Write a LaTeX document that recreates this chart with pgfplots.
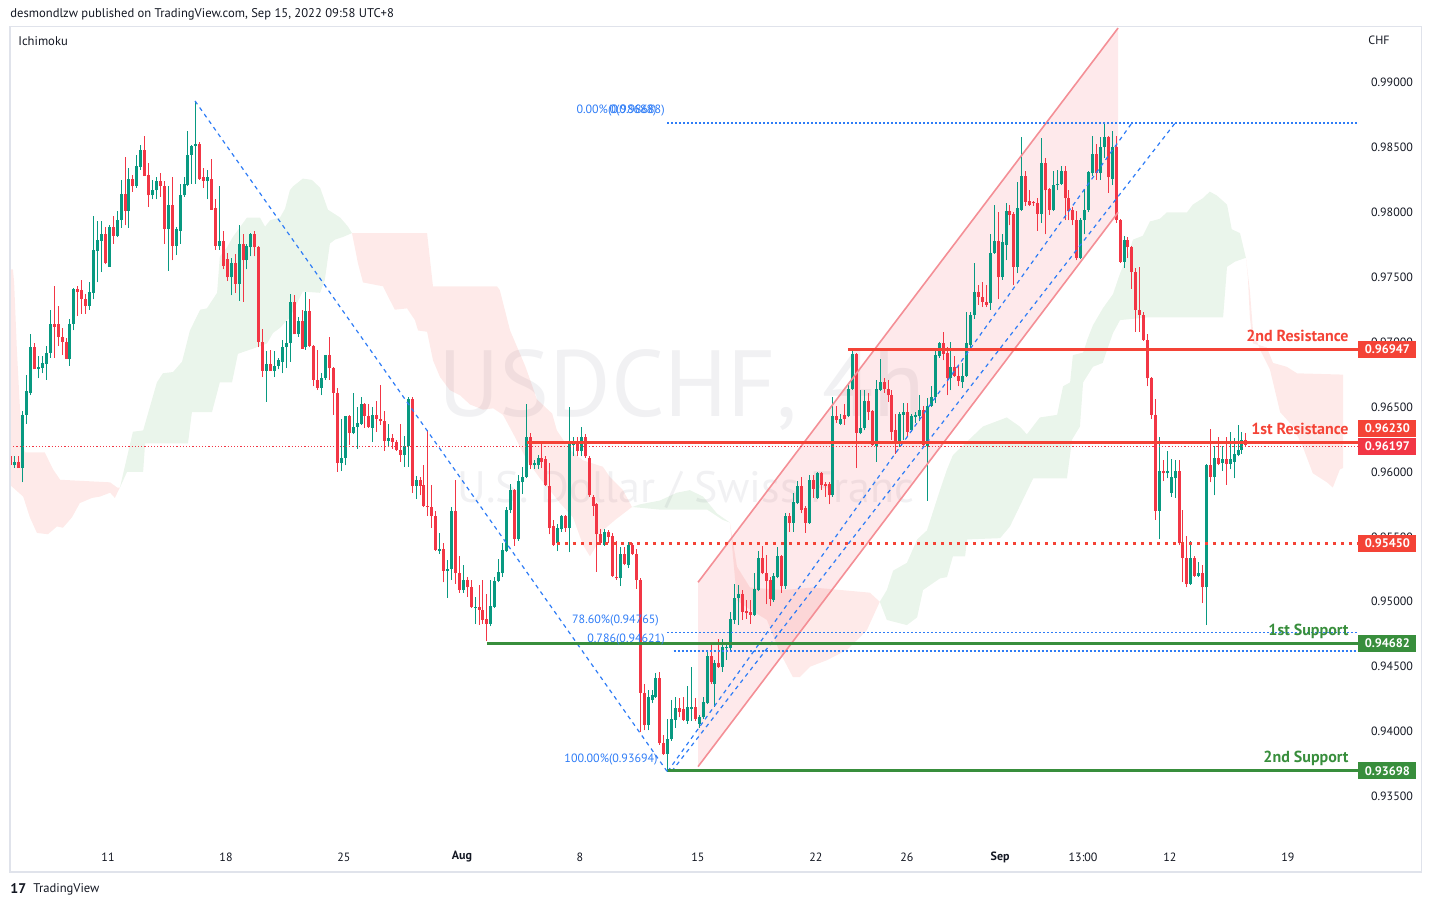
\documentclass[border=0pt]{standalone}
\usepackage{pgfplots}
\pgfplotsset{compat=1.18}
\usepackage{pgfplotstable}
\usepackage{fontspec}
\setmainfont{PT Sans}
\definecolor{upc}{HTML}{089981}
\definecolor{dnc}{HTML}{F23645}
\definecolor{resc}{HTML}{F44336}
\definecolor{supc}{HTML}{388E3C}
\definecolor{fibc}{HTML}{2E7CF6}
\definecolor{chanline}{RGB}{244,143,150}
\definecolor{axtxt}{HTML}{131722}
\definecolor{frm}{HTML}{E0E3EB}
\definecolor{wm}{RGB}{241,241,243}
\pgfplotstableread{
i o h l c u
0 0.9612 0.9616 0.9605 0.9605 0
1 0.9605 0.9612 0.9603 0.9608 1
2 0.9608 0.9612 0.9603 0.9603 0
3 0.9603 0.9647 0.9592 0.9644 1
4 0.9644 0.9675 0.9637 0.9662 1
5 0.9661 0.9706 0.9659 0.9696 1
6 0.9696 0.9699 0.9679 0.9679 0
7 0.9679 0.9689 0.9672 0.9681 1
8 0.9680 0.9689 0.9676 0.9684 1
9 0.9683 0.9697 0.9671 0.9692 1
10 0.9692 0.9725 0.9688 0.9714 1
11 0.9714 0.9743 0.9688 0.9712 0
12 0.9714 0.9728 0.9697 0.9704 0
13 0.9704 0.9711 0.9690 0.9700 0
14 0.9700 0.9703 0.9687 0.9687 0
15 0.9687 0.9718 0.9682 0.9714 1
16 0.9714 0.9742 0.9709 0.9741 1
17 0.9741 0.9743 0.9720 0.9739 0
18 0.9740 0.9748 0.9722 0.9733 0
19 0.9733 0.9737 0.9722 0.9728 0
20 0.9728 0.9746 0.9725 0.9739 1
21 0.9738 0.9797 0.9733 0.9771 1
22 0.9770 0.9793 0.9746 0.9779 1
23 0.9778 0.9793 0.9754 0.9783 1
24 0.9783 0.9789 0.9760 0.9761 0
25 0.9758 0.9790 0.9758 0.9789 1
26 0.9789 0.9797 0.9776 0.9782 0
27 0.9782 0.9801 0.9781 0.9794 1
28 0.9794 0.9825 0.9788 0.9814 1
29 0.9814 0.9843 0.9790 0.9801 0
30 0.9801 0.9834 0.9788 0.9826 1
31 0.9826 0.9829 0.9816 0.9820 0
32 0.9820 0.9844 0.9819 0.9836 1
33 0.9835 0.9852 0.9833 0.9848 1
34 0.9848 0.9859 0.9828 0.9828 0
35 0.9829 0.9838 0.9804 0.9813 0
36 0.9813 0.9825 0.9810 0.9817 1
37 0.9817 0.9827 0.9810 0.9824 1
38 0.9824 0.9830 0.9812 0.9820 0
39 0.9820 0.9824 0.9776 0.9787 0
40 0.9787 0.9820 0.9755 0.9806 1
41 0.9806 0.9827 0.9763 0.9774 0
42 0.9774 0.9789 0.9767 0.9787 1
43 0.9786 0.9822 0.9776 0.9813 1
44 0.9813 0.9827 0.9812 0.9822 1
45 0.9821 0.9863 0.9820 0.9844 1
46 0.9844 0.9852 0.9822 0.9851 1
47 0.9851 0.9885 0.9822 0.9853 1
48 0.9853 0.9854 0.9825 0.9826 0
49 0.9827 0.9834 0.9819 0.9824 0
50 0.9824 0.9833 0.9810 0.9827 1
51 0.9826 0.9841 0.9802 0.9802 0
52 0.9803 0.9810 0.9771 0.9774 0
53 0.9774 0.9820 0.9771 0.9778 1
54 0.9778 0.9786 0.9756 0.9759 0
55 0.9764 0.9769 0.9747 0.9750 0
56 0.9750 0.9765 0.9736 0.9761 1
57 0.9761 0.9768 0.9738 0.9745 0
58 0.9745 0.9790 0.9732 0.9776 1
59 0.9776 0.9783 0.9731 0.9763 0
60 0.9763 0.9776 0.9756 0.9774 1
61 0.9773 0.9784 0.9766 0.9783 1
62 0.9783 0.9786 0.9766 0.9773 0
63 0.9773 0.9774 0.9696 0.9700 0
64 0.9700 0.9710 0.9673 0.9678 0
65 0.9678 0.9693 0.9654 0.9683 1
66 0.9683 0.9694 0.9678 0.9678 0
67 0.9678 0.9693 0.9673 0.9682 1
68 0.9682 0.9688 0.9679 0.9686 1
69 0.9685 0.9702 0.9676 0.9696 1
70 0.9696 0.9716 0.9680 0.9699 1
71 0.9699 0.9737 0.9685 0.9731 1
72 0.9731 0.9736 0.9706 0.9706 0
73 0.9706 0.9719 0.9704 0.9716 1
74 0.9716 0.9725 0.9695 0.9695 0
75 0.9696 0.9739 0.9694 0.9724 1
76 0.9724 0.9733 0.9696 0.9697 0
77 0.9697 0.9698 0.9666 0.9671 0
78 0.9671 0.9694 0.9663 0.9665 0
79 0.9665 0.9676 0.9659 0.9672 1
80 0.9672 0.9690 0.9671 0.9690 1
81 0.9690 0.9704 0.9671 0.9680 0
82 0.9680 0.9681 0.9644 0.9661 0
83 0.9661 0.9665 0.9600 0.9607 0
84 0.9607 0.9641 0.9601 0.9611 1
85 0.9611 0.9643 0.9605 0.9643 1
86 0.9643 0.9644 0.9621 0.9630 0
87 0.9630 0.9661 0.9629 0.9635 1
88 0.9635 0.9650 0.9618 0.9638 1
89 0.9637 0.9658 0.9636 0.9652 1
90 0.9652 0.9653 0.9634 0.9643 0
91 0.9643 0.9652 0.9634 0.9635 0
92 0.9634 0.9650 0.9623 0.9644 1
93 0.9644 0.9655 0.9631 0.9641 0
94 0.9641 0.9667 0.9636 0.9639 0
95 0.9639 0.9647 0.9616 0.9624 0
96 0.9624 0.9637 0.9620 0.9626 1
97 0.9626 0.9629 0.9618 0.9623 0
98 0.9623 0.9625 0.9616 0.9617 0
99 0.9617 0.9637 0.9608 0.9613 0
100 0.9613 0.9628 0.9604 0.9620 1
101 0.9620 0.9658 0.9604 0.9656 1
102 0.9656 0.9658 0.9584 0.9589 0
103 0.9589 0.9597 0.9579 0.9594 1
104 0.9594 0.9596 0.9582 0.9589 0
105 0.9590 0.9605 0.9573 0.9574 0
106 0.9574 0.9632 0.9566 0.9573 0
107 0.9573 0.9590 0.9557 0.9566 0
108 0.9566 0.9570 0.9539 0.9540 0
109 0.9539 0.9553 0.9537 0.9541 1
110 0.9541 0.9545 0.9515 0.9524 0
111 0.9524 0.9532 0.9503 0.9525 1
112 0.9525 0.9573 0.9517 0.9570 1
113 0.9570 0.9594 0.9514 0.9522 0
114 0.9522 0.9535 0.9507 0.9509 0
115 0.9509 0.9528 0.9507 0.9517 1
116 0.9517 0.9519 0.9504 0.9511 0
117 0.9511 0.9517 0.9495 0.9496 0
118 0.9495 0.9504 0.9483 0.9496 1
119 0.9496 0.9513 0.9482 0.9494 0
120 0.9494 0.9517 0.9483 0.9486 0
121 0.9487 0.9506 0.9470 0.9483 0
122 0.9483 0.9517 0.9481 0.9497 1
123 0.9496 0.9519 0.9495 0.9516 1
124 0.9516 0.9533 0.9515 0.9523 1
125 0.9522 0.9545 0.9519 0.9540 1
126 0.9539 0.9573 0.9538 0.9571 1
127 0.9571 0.9591 0.9568 0.9586 1
128 0.9586 0.9587 0.9543 0.9548 0
129 0.9548 0.9598 0.9547 0.9593 1
130 0.9592 0.9604 0.9583 0.9596 1
131 0.9596 0.9652 0.9595 0.9627 1
132 0.9627 0.9630 0.9602 0.9605 0
133 0.9605 0.9609 0.9602 0.9607 1
134 0.9605 0.9613 0.9602 0.9611 1
135 0.9611 0.9622 0.9603 0.9608 0
136 0.9610 0.9612 0.9589 0.9590 0
137 0.9589 0.9607 0.9552 0.9557 0
138 0.9558 0.9563 0.9543 0.9544 0
139 0.9545 0.9560 0.9539 0.9557 1
140 0.9556 0.9567 0.9554 0.9566 1
141 0.9566 0.9567 0.9554 0.9557 0
142 0.9557 0.9650 0.9538 0.9624 1
143 0.9621 0.9627 0.9612 0.9623 1
144 0.9622 0.9627 0.9612 0.9616 0
145 0.9616 0.9635 0.9612 0.9627 1
146 0.9627 0.9629 0.9611 0.9612 0
147 0.9611 0.9612 0.9581 0.9582 0
148 0.9581 0.9582 0.9566 0.9574 0
149 0.9575 0.9576 0.9523 0.9552 0
150 0.9552 0.9556 0.9544 0.9545 0
151 0.9544 0.9556 0.9543 0.9554 1
152 0.9554 0.9555 0.9545 0.9550 0
153 0.9551 0.9553 0.9519 0.9520 0
154 0.9519 0.9547 0.9517 0.9518 0
155 0.9518 0.9542 0.9512 0.9537 1
156 0.9537 0.9542 0.9528 0.9529 0
157 0.9528 0.9546 0.9526 0.9544 1
158 0.9544 0.9545 0.9536 0.9537 0
159 0.9537 0.9541 0.9510 0.9517 0
160 0.9517 0.9518 0.9400 0.9430 0
161 0.9430 0.9437 0.9401 0.9405 0
162 0.9405 0.9432 0.9401 0.9427 1
163 0.9424 0.9432 0.9422 0.9428 1
164 0.9427 0.9445 0.9426 0.9441 1
165 0.9441 0.9446 0.9390 0.9391 0
166 0.9391 0.9397 0.9382 0.9383 0
167 0.9383 0.9410 0.9369 0.9394 1
168 0.9394 0.9424 0.9393 0.9410 1
169 0.9409 0.9427 0.9403 0.9418 1
170 0.9418 0.9426 0.9411 0.9415 0
171 0.9417 0.9427 0.9408 0.9409 0
172 0.9408 0.9435 0.9406 0.9419 1
173 0.9417 0.9450 0.9408 0.9419 1
174 0.9419 0.9426 0.9408 0.9410 0
175 0.9406 0.9413 0.9403 0.9411 1
176 0.9411 0.9427 0.9410 0.9423 1
177 0.9422 0.9462 0.9421 0.9458 1
178 0.9458 0.9468 0.9437 0.9438 0
179 0.9437 0.9455 0.9419 0.9453 1
180 0.9453 0.9471 0.9449 0.9450 0
181 0.9450 0.9471 0.9446 0.9465 1
182 0.9464 0.9468 0.9455 0.9465 1
183 0.9464 0.9492 0.9463 0.9487 1
184 0.9486 0.9514 0.9483 0.9503 1
185 0.9503 0.9513 0.9482 0.9506 1
186 0.9506 0.9509 0.9486 0.9492 0
187 0.9493 0.9501 0.9487 0.9491 0
188 0.9492 0.9501 0.9483 0.9490 0
189 0.9490 0.9522 0.9489 0.9510 1
190 0.9509 0.9539 0.9508 0.9534 1
191 0.9534 0.9543 0.9521 0.9522 0
192 0.9522 0.9536 0.9498 0.9516 0
193 0.9517 0.9519 0.9497 0.9502 0
194 0.9501 0.9522 0.9500 0.9520 1
195 0.9519 0.9542 0.9518 0.9535 1
196 0.9535 0.9536 0.9507 0.9512 0
197 0.9512 0.9568 0.9510 0.9566 1
198 0.9566 0.9568 0.9554 0.9561 0
199 0.9561 0.9584 0.9554 0.9577 1
200 0.9576 0.9593 0.9575 0.9589 1
201 0.9589 0.9596 0.9568 0.9571 0
202 0.9572 0.9574 0.9553 0.9561 0
203 0.9561 0.9598 0.9560 0.9594 1
204 0.9594 0.9598 0.9580 0.9587 0
205 0.9580 0.9600 0.9579 0.9599 1
206 0.9599 0.9600 0.9586 0.9590 0
207 0.9591 0.9592 0.9581 0.9589 0
208 0.9591 0.9592 0.9575 0.9582 0
209 0.9582 0.9658 0.9581 0.9643 1
210 0.9643 0.9651 0.9638 0.9640 0
211 0.9637 0.9645 0.9636 0.9641 1
212 0.9644 0.9652 0.9636 0.9641 0
213 0.9643 0.9668 0.9642 0.9664 1
214 0.9664 0.9693 0.9663 0.9691 1
215 0.9691 0.9692 0.9603 0.9630 0
216 0.9630 0.9663 0.9629 0.9634 1
217 0.9634 0.9663 0.9632 0.9655 1
218 0.9655 0.9661 0.9640 0.9646 0
219 0.9647 0.9648 0.9620 0.9621 0
220 0.9620 0.9671 0.9608 0.9664 1
221 0.9663 0.9687 0.9662 0.9669 1
222 0.9669 0.9672 0.9661 0.9664 0
223 0.9664 0.9671 0.9654 0.9659 0
224 0.9659 0.9663 0.9625 0.9631 0
225 0.9632 0.9645 0.9614 0.9623 0
226 0.9622 0.9646 0.9619 0.9645 1
227 0.9644 0.9653 0.9625 0.9646 1
228 0.9646 0.9653 0.9627 0.9631 0
229 0.9632 0.9645 0.9631 0.9643 1
230 0.9642 0.9646 0.9638 0.9644 1
231 0.9643 0.9659 0.9639 0.9648 1
232 0.9648 0.9651 0.9620 0.9621 0
233 0.9620 0.9657 0.9578 0.9651 1
234 0.9651 0.9666 0.9650 0.9658 1
235 0.9658 0.9694 0.9653 0.9690 1
236 0.9689 0.9700 0.9688 0.9699 1
237 0.9699 0.9708 0.9686 0.9691 0
238 0.9692 0.9696 0.9659 0.9672 0
239 0.9672 0.9700 0.9663 0.9681 1
240 0.9681 0.9689 0.9673 0.9674 0
241 0.9674 0.9682 0.9666 0.9670 0
242 0.9669 0.9684 0.9665 0.9674 1
243 0.9674 0.9723 0.9673 0.9699 1
244 0.9698 0.9723 0.9695 0.9721 1
245 0.9721 0.9761 0.9718 0.9739 1
246 0.9739 0.9744 0.9729 0.9735 0
247 0.9735 0.9746 0.9727 0.9731 0
248 0.9731 0.9744 0.9727 0.9729 0
249 0.9730 0.9783 0.9725 0.9769 1
250 0.9769 0.9806 0.9768 0.9778 1
251 0.9778 0.9800 0.9733 0.9750 0
252 0.9750 0.9783 0.9748 0.9777 1
253 0.9775 0.9807 0.9763 0.9801 1
254 0.9801 0.9806 0.9790 0.9798 0
255 0.9799 0.9800 0.9744 0.9758 0
256 0.9758 0.9823 0.9753 0.9803 1
257 0.9802 0.9858 0.9801 0.9828 1
258 0.9828 0.9832 0.9805 0.9808 0
259 0.9809 0.9817 0.9805 0.9806 0
260 0.9808 0.9809 0.9805 0.9807 0
261 0.9807 0.9811 0.9786 0.9799 0
262 0.9799 0.9857 0.9792 0.9838 1
263 0.9838 0.9842 0.9783 0.9817 0
264 0.9818 0.9819 0.9798 0.9802 0
265 0.9802 0.9832 0.9801 0.9821 1
266 0.9821 0.9833 0.9817 0.9822 1
267 0.9822 0.9836 0.9821 0.9832 1
268 0.9832 0.9836 0.9794 0.9811 0
269 0.9811 0.9817 0.9794 0.9801 0
270 0.9802 0.9804 0.9790 0.9794 0
271 0.9794 0.9801 0.9763 0.9765 0
272 0.9765 0.9796 0.9764 0.9794 1
273 0.9794 0.9817 0.9783 0.9802 1
274 0.9802 0.9832 0.9800 0.9831 1
275 0.9830 0.9859 0.9828 0.9845 1
276 0.9845 0.9853 0.9825 0.9830 0
277 0.9830 0.9858 0.9825 0.9850 1
278 0.9850 0.9868 0.9842 0.9858 1
279 0.9858 0.9859 0.9815 0.9827 0
280 0.9826 0.9863 0.9821 0.9850 1
281 0.9850 0.9859 0.9792 0.9794 0
282 0.9794 0.9795 0.9761 0.9762 0
283 0.9762 0.9782 0.9757 0.9779 1
284 0.9779 0.9781 0.9765 0.9773 0
285 0.9773 0.9774 0.9741 0.9754 0
286 0.9754 0.9757 0.9708 0.9725 0
287 0.9725 0.9758 0.9708 0.9721 0
288 0.9721 0.9723 0.9701 0.9702 0
289 0.9702 0.9706 0.9666 0.9672 0
290 0.9672 0.9673 0.9641 0.9644 0
291 0.9644 0.9656 0.9563 0.9570 0
292 0.9570 0.9627 0.9548 0.9601 1
293 0.9601 0.9609 0.9593 0.9599 0
294 0.9599 0.9616 0.9595 0.9601 1
295 0.9584 0.9610 0.9581 0.9596 1
296 0.9595 0.9609 0.9580 0.9601 1
297 0.9601 0.9609 0.9544 0.9545 0
298 0.9545 0.9571 0.9515 0.9534 0
299 0.9534 0.9551 0.9511 0.9514 0
300 0.9514 0.9547 0.9513 0.9534 1
301 0.9534 0.9535 0.9519 0.9520 0
302 0.9520 0.9531 0.9519 0.9522 1
303 0.9522 0.9528 0.9499 0.9511 0
304 0.9511 0.9606 0.9482 0.9605 1
305 0.9605 0.9633 0.9592 0.9596 0
306 0.9596 0.9620 0.9582 0.9611 1
307 0.9611 0.9627 0.9605 0.9606 0
308 0.9607 0.9620 0.9601 0.9610 1
309 0.9610 0.9627 0.9590 0.9606 0
310 0.9606 0.9631 0.9602 0.9610 1
311 0.9608 0.9626 0.9595 0.9614 1
312 0.9613 0.9636 0.9612 0.9617 1
313 0.9617 0.9631 0.9614 0.9625 1
314 0.9625 0.9630 0.9620 0.9621 0
}\candles
\begin{document}
\begin{tikzpicture}
\begin{axis}[
  at={(0,0)}, anchor=south west,
  scale only axis, width=674pt, height=409pt,
  xmin=-0.254, xmax=342.5, ymin=0.93126, ymax=0.99428,
  axis line style={draw=none},
  major tick length=0pt,
  clip mode=individual,
  scaled y ticks=false,
  xtick={24.67,54.67,84.67,114.67,144.67,174.67,204.67,227.8,251.5,272.6,294.67,324.67},
  xticklabels={11,18,25,\textbf{Aug},8,15,22,26,\textbf{Sep},13:00,12,19},
  ytick={0.935,0.94,0.945,0.95,0.955,0.96,0.965,0.97,0.975,0.98,0.985,0.99},
  yticklabel pos=right,
  xticklabel style={font=\fontsize{6}{7}\selectfont, text=axtxt, anchor=center, yshift=-6pt},
  yticklabel style={font=\fontsize{6}{7}\selectfont, text=axtxt, anchor=west, xshift=3pt,
    /pgf/number format/fixed, /pgf/number format/fixed zerofill, /pgf/number format/precision=5},
  /pgf/number format/assume math mode=true,
]
% watermark
\node[text=wm, font=\fontsize{47}{50}\selectfont, inner sep=0] at (axis cs:170.6,0.96631) {USDCHF, 4h};
\node[text=wm, font=\fontsize{22}{24}\selectfont, inner sep=0] at (axis cs:171.6,0.95861) {U.S. Dollar / Swiss Franc};
% Ichimoku cloud
\addplot[draw=none, fill={rgb,255:red,244;green,67;blue,54}, fill opacity=0.11] coordinates {(-0.25,0.9756) (0.5,0.9756) (0.8,0.9746) (1.5,0.9694) (2.3,0.9648) (3.1,0.9619) (3.6,0.9615) (8.6,0.9615) (10.7,0.9602) (12.5,0.9594) (25.2,0.9592) (27.0,0.9588) (27.7,0.9588) (26.4,0.9580) (25.2,0.9584) (22.6,0.9581) (20.6,0.9580) (17.5,0.9576) (15.5,0.9565) (13.2,0.9557) (11.7,0.9558) (9.4,0.9552) (6.6,0.9553) (4.8,0.9565) (3.1,0.9581) (-0.25,0.9590)} -- cycle;
\addplot[draw=none, fill={rgb,255:red,67;green,160;blue,71}, fill opacity=0.11] coordinates {(27.7,0.9588) (31.0,0.9631) (33.6,0.9632) (37.1,0.9669) (38.6,0.9676) (41.2,0.9677) (43.5,0.9685) (45.5,0.9709) (48.1,0.9725) (49.8,0.9726) (52.4,0.9738) (53.1,0.9766) (54.9,0.9773) (56.4,0.9781) (60.0,0.9796) (63.3,0.9796) (64.6,0.9789) (65.9,0.9794) (68.4,0.9796) (69.7,0.9803) (70.9,0.9817) (71.7,0.9820) (74.2,0.9826) (76.5,0.9825) (78.6,0.9819) (80.6,0.9802) (83.7,0.9796) (85.7,0.9789) (86.7,0.9784) (84.4,0.9781) (82.4,0.9779) (81.1,0.9776) (79.8,0.9748) (78.6,0.9738) (74.2,0.9739) (70.9,0.9719) (68.4,0.9711) (66.6,0.9707) (65.1,0.9699) (61.5,0.9695) (57.7,0.9691) (56.2,0.9669) (53.1,0.9669) (51.1,0.9646) (46.0,0.9646) (45.0,0.9622) (34.1,0.9622) (33.6,0.9600) (29.5,0.9600)} -- cycle;
\addplot[draw=none, fill={rgb,255:red,244;green,67;blue,54}, fill opacity=0.11] coordinates {(86.7,0.9784) (105.8,0.9784) (107.3,0.9743) (123.6,0.9743) (124.3,0.9740) (126.9,0.9709) (130.7,0.9682) (132.0,0.9671) (133.7,0.9656) (137.6,0.9645) (138.8,0.9632) (142.1,0.9617) (145.4,0.9609) (150.5,0.9604) (152.3,0.9596) (155.6,0.9586) (157.9,0.9573) (153.6,0.9563) (150.5,0.9555) (149.0,0.9544) (147.2,0.9535) (145.4,0.9544) (142.9,0.9565) (139.6,0.9576) (137.0,0.9586) (134.5,0.9595) (131.2,0.9609) (127.6,0.9630) (125.1,0.9644) (122.6,0.9649) (120.0,0.9648) (116.7,0.9652) (114.2,0.9659) (111.6,0.9663) (109.1,0.9673) (107.3,0.9686) (105.8,0.9708) (103.5,0.9709) (102.7,0.9717) (100.7,0.9726) (97.6,0.9725) (95.9,0.9735) (94.6,0.9743) (89.5,0.9746) (88.2,0.9761)} -- cycle;
\addplot[draw=none, fill={rgb,255:red,67;green,160;blue,71}, fill opacity=0.11] coordinates {(157.9,0.9573) (159.9,0.9575) (165.0,0.9578) (169.3,0.9584) (172.6,0.9586) (176.0,0.9581) (179.5,0.9568) (182.8,0.9561) (181.0,0.9563) (177.0,0.9571) (165.0,0.9571)} -- cycle;
\addplot[draw=none, fill={rgb,255:red,244;green,67;blue,54}, fill opacity=0.11] coordinates {(182.8,0.9561) (184.6,0.9527) (187.9,0.9511) (196.3,0.9509) (203.9,0.9511) (218.4,0.9507) (220.9,0.9500) (217.6,0.9478) (212.6,0.9463) (207.5,0.9455) (203.2,0.9450) (200.6,0.9442) (198.8,0.9442) (195.5,0.9461) (192.2,0.9486) (187.9,0.9494) (184.6,0.9501)} -- cycle;
\addplot[draw=none, fill={rgb,255:red,67;green,160;blue,71}, fill opacity=0.11] coordinates {(220.9,0.9500) (222.7,0.9509) (224.3,0.9524) (227.8,0.9530) (230.4,0.9548) (232.9,0.9555) (236.2,0.9586) (238.0,0.9602) (239.5,0.9613) (247.1,0.9635) (253.2,0.9642) (256.5,0.9635) (258.3,0.9629) (261.6,0.9642) (266.0,0.9644) (267.5,0.9666) (269.3,0.9669) (270.0,0.9690) (272.6,0.9692) (273.8,0.9703) (275.1,0.9713) (277.6,0.9726) (280.2,0.9737) (282.0,0.9753) (283.8,0.9766) (285.3,0.9779) (287.8,0.9782) (289.6,0.9793) (292.1,0.9795) (293.9,0.9800) (299.0,0.9800) (300.5,0.9806) (303.1,0.9811) (304.8,0.9816) (306.6,0.9813) (309.2,0.9806) (310.4,0.9787) (312.5,0.9784) (314.0,0.9765) (311.2,0.9762) (309.2,0.9758) (308.2,0.9719) (288.8,0.9719) (282.0,0.9717) (280.2,0.9707) (278.7,0.9694) (277.6,0.9684) (275.1,0.9681) (272.6,0.9669) (271.8,0.9635) (269.8,0.9625) (268.5,0.9595) (259.9,0.9595) (254.0,0.9558) (251.5,0.9549) (243.1,0.9548) (242.6,0.9535) (239.5,0.9535) (238.0,0.9519) (236.2,0.9518) (231.9,0.9509) (230.4,0.9488) (227.8,0.9482) (222.7,0.9486)} -- cycle;
\addplot[draw=none, fill={rgb,255:red,244;green,67;blue,54}, fill opacity=0.11] coordinates {(314.0,0.9765) (314.5,0.9750) (315.0,0.9719) (315.8,0.9699) (319.3,0.9696) (320.9,0.9684) (324.4,0.9681) (327.0,0.9676) (338.7,0.9675) (338.7,0.9603) (337.9,0.9602) (336.1,0.9588) (334.6,0.9592) (331.0,0.9599) (328.5,0.9619) (326.0,0.9635) (322.7,0.9646) (320.1,0.9679) (317.6,0.9694) (315.8,0.9709) (315.0,0.9740)} -- cycle;
% parallel channel fill
\addplot[draw=none, fill=dnc, fill opacity=0.11] coordinates {(174.7,0.9515) (281.5,0.9942) (281.5,0.9800) (174.7,0.9373)} -- cycle;
% candles: wicks (low to high) and bodies (open to close), one plot each per colour
\addplot[upc, line width=0.5pt, -, restrict expr to domain={\thisrow{u}}{0.5:1.5}, quiver={u=0, v=\thisrow{h}-\thisrow{l}}] table[x=i, y=l] {\candles};
\addplot[dnc, line width=0.5pt, -, restrict expr to domain={\thisrow{u}}{-0.5:0.5}, quiver={u=0, v=\thisrow{h}-\thisrow{l}}] table[x=i, y=l] {\candles};
\addplot[upc, line width=1.5pt, -, restrict expr to domain={\thisrow{u}}{0.5:1.5}, quiver={u=0, v=\thisrow{c}-\thisrow{o}}] table[x=i, y=o] {\candles};
\addplot[dnc, line width=1.5pt, -, restrict expr to domain={\thisrow{u}}{-0.5:0.5}, quiver={u=0, v=\thisrow{o}-\thisrow{c}}] table[x=i, y=c] {\candles};
% channel borders
\addplot[chanline, line width=0.8pt] coordinates {(174.7,0.9515) (281.5,0.9942)};
\addplot[chanline, line width=0.8pt] coordinates {(174.7,0.9373) (281.5,0.9800)};
% blue dashed trend lines
\addplot[fibc, line width=0.6pt, dash pattern=on 2pt off 2pt] coordinates {(46.8,0.98858) (166.8,0.93694)};
\addplot[fibc, line width=0.6pt, dash pattern=on 2pt off 2pt] coordinates {(167.0,0.93694) (285.0,0.98688)};
\addplot[fibc, line width=0.6pt, dash pattern=on 2pt off 2pt] coordinates {(168.0,0.93694) (296.0,0.98688)};
% fib levels
\addplot[fibc, line width=0.6pt, dash pattern=on 1pt off 1pt] coordinates {(166.8,0.98688) (342.5,0.98688)};
\addplot[fibc, line width=0.6pt, dash pattern=on 1pt off 1pt] coordinates {(166.8,0.94765) (342.5,0.94765)};
\addplot[fibc, line width=0.6pt, dash pattern=on 1pt off 1pt] coordinates {(168.5,0.94621) (342.5,0.94621)};
% support / resistance
\addplot[dnc, line width=0.5pt, dash pattern=on 0.6pt off 1pt] coordinates {(-0.25,0.96197) (342.5,0.96197)};
\addplot[resc, line width=1.5pt] coordinates {(212.8,0.96947) (342.5,0.96947)};
\addplot[resc, line width=1.5pt] coordinates {(131.2,0.96230) (342.5,0.96230)};
\addplot[resc, line width=1.3pt, dash pattern=on 1.5pt off 2.5pt] coordinates {(138.8,0.95450) (342.5,0.95450)};
\addplot[supc, line width=1.5pt] coordinates {(121.0,0.94682) (342.5,0.94682)};
\addplot[supc, line width=1.5pt] coordinates {(167.0,0.93698) (342.5,0.93698)};
% labels
\node[anchor=base east, inner sep=0, yshift=4pt, text=resc, font=\fontsize{8}{9}\selectfont\bfseries] at (axis cs:340.2,0.96947) {2nd Resistance};
\node[anchor=base east, inner sep=0, yshift=4pt, text=resc, font=\fontsize{8}{9}\selectfont\bfseries] at (axis cs:340.2,0.96230) {1st Resistance};
\node[anchor=base east, inner sep=0, yshift=4pt, text=supc, font=\fontsize{8}{9}\selectfont\bfseries] at (axis cs:340.2,0.94682) {1st Support};
\node[anchor=base east, inner sep=0, yshift=4pt, text=supc, font=\fontsize{8}{9}\selectfont\bfseries] at (axis cs:340.2,0.93698) {2nd Support};
\node[anchor=east, inner sep=0, text=fibc, font=\fontsize{6}{7}\selectfont] at (axis cs:164.8,0.94852) {78.60\%(0.94765)};
\node[anchor=east, inner sep=0, text=fibc, font=\fontsize{6}{7}\selectfont] at (axis cs:166.3,0.94705) {0.786(0.94621)};
\node[anchor=east, inner sep=0, text=fibc, font=\fontsize{6}{7}\selectfont] at (axis cs:164.5,0.93781) {100.00\%(0.93694)};
\node[anchor=west, inner sep=0, text=fibc, font=\fontsize{6}{7}\selectfont] at (axis cs:143.7,0.98781) {0.00\%(0.98688)};
\node[anchor=east, inner sep=0, text=fibc, font=\fontsize{6}{7}\selectfont] at (axis cs:166.3,0.98781) {0(0.98688)};
\coordinate (AXSW) at (rel axis cs:0,0);
\coordinate (T1) at (axis cs:342.5,0.96947);
\coordinate (T3) at (axis cs:342.5,0.96197);
\coordinate (T4) at (axis cs:342.5,0.95450);
\coordinate (T5) at (axis cs:342.5,0.94682);
\coordinate (T6) at (axis cs:342.5,0.93698);
\end{axis}
\begin{scope}[shift={(AXSW)}]
\begin{scope}[x=0.5pt, y=0.5pt, shift={(-10,-62)}]
\draw[frm, line width=0.6pt] (10,35) rectangle (1421.5,880.5);
\node[anchor=west, inner sep=0, text=axtxt, font=\fontsize{6.3}{7}\selectfont] at (10,893) {desmondlzw published on TradingView.com, Sep 15, 2022 09:58 UTC+8};
\node[anchor=west, inner sep=0, text=axtxt, font=\fontsize{6.3}{7}\selectfont] at (18,866) {Ichimoku};
\node[anchor=west, inner sep=0, text=axtxt, font=\fontsize{6}{7}\selectfont] at (1368,867) {CHF};
\node[anchor=west, inner sep=0, text=axtxt, font=\fontsize{7}{8}\selectfont\bfseries] at (10,18) {17};
\node[anchor=west, inner sep=0, text=axtxt, font=\fontsize{6.3}{7}\selectfont] at (33,18) {TradingView};
\tikzset{tag/.style={anchor=west, inner sep=0, minimum width=29pt, minimum height=8.5pt, text=white, font=\fontsize{6.2}{7}\selectfont\bfseries}}
\node[tag, fill=resc] at (T1) {0.96947};
\node[tag, fill=dnc] (cp) at (T3) {0.96197};
\node[tag, fill=resc, anchor=south west] at (cp.north west) {0.96230};
\node[tag, fill=resc] at (T4) {0.95450};
\node[tag, fill=supc] at (T5) {0.94682};
\node[tag, fill=supc] at (T6) {0.93698};
\pgfresetboundingbox
\path[use as bounding box] (0,0) rectangle (1432,907);
\end{scope}
\end{scope}
\end{tikzpicture}
\end{document}
